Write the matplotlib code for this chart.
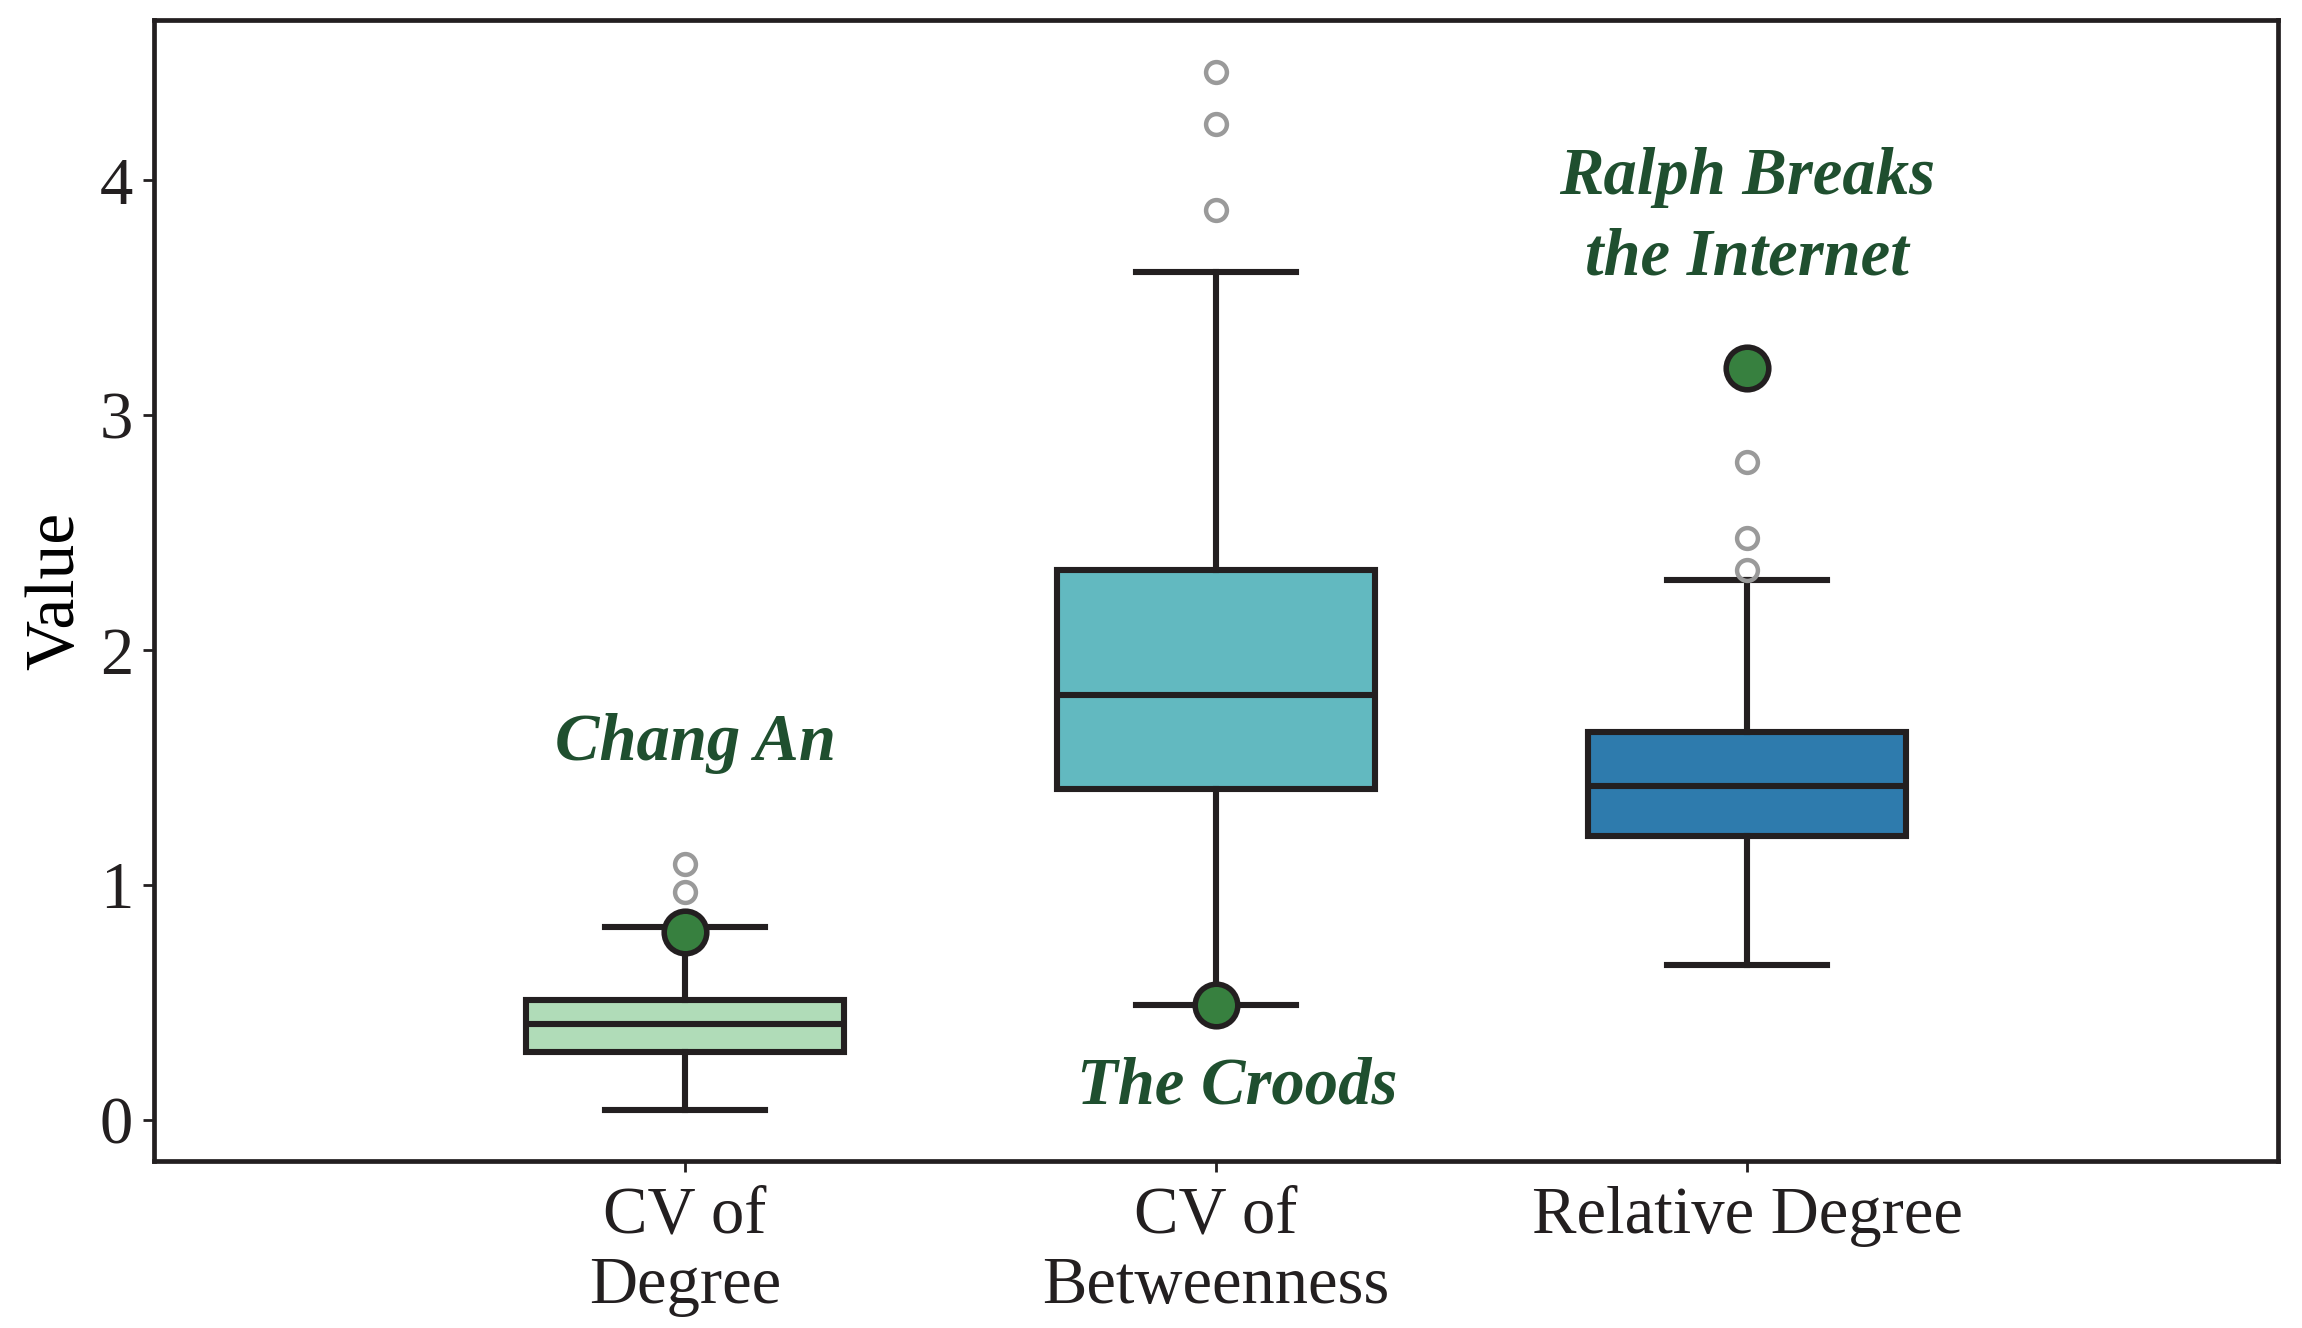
import matplotlib
matplotlib.use("Agg")
import matplotlib.pyplot as plt

# Box statistics
categories = ["CV of\nDegree", "CV of\nBetweenness", "Relative Degree"]
q1 = [0.29, 1.41, 1.21]
med = [0.41, 1.81, 1.42]
q3 = [0.51, 2.34, 1.65]
whislo = [0.04, 0.49, 0.66]
whishi = [0.82, 3.61, 2.30]
fliers = [[0.97, 1.09], [3.875, 4.24, 4.46], [2.34, 2.475, 2.80]]
box_colors = ["#b0dcb8", "#62b9c0", "#2e7bad"]

# Highlighted films
hl_names = ["Chang An", "The Croods", "Ralph Breaks\nthe Internet"]
hl_values = [0.80, 0.49, 3.20]
hl_label_y = [1.60, 0.14, 3.84]
hl_label_dx = [0.02, 0.04, 0.0]

plt.rcParams["font.family"] = ["Liberation Serif", "DejaVu Serif"]
edge = "#231f20"

fig = plt.figure(figsize=(11.51, 6.64), dpi=200)
ax = fig.add_axes([0.0669, 0.1258, 0.9227, 0.8588])

stats = []
for i in range(len(categories)):
    stats.append(dict(med=med[i], q1=q1[i], q3=q3[i], whislo=whislo[i],
                      whishi=whishi[i], fliers=fliers[i], label=categories[i]))

bp = ax.bxp(stats, positions=range(len(categories)), widths=0.6,
            patch_artist=True, showfliers=True,
            boxprops=dict(edgecolor=edge, linewidth=2.2),
            medianprops=dict(color=edge, linewidth=2.2),
            whiskerprops=dict(color=edge, linewidth=2.2),
            capprops=dict(color=edge, linewidth=2.2),
            flierprops=dict(marker="o", markerfacecolor="none",
                            markeredgecolor="#9a9a9a", markersize=7.5,
                            markeredgewidth=1.6))
for patch, c in zip(bp["boxes"], box_colors):
    patch.set_facecolor(c)

ax.scatter(range(len(hl_values)), hl_values, s=235, color="#37803f",
           edgecolor=edge, linewidth=2.0, zorder=5)

for i, (name, ty) in enumerate(zip(hl_names, hl_label_y)):
    ax.text(i + hl_label_dx[i], ty, name, ha="center", va="center",
            fontsize=24, fontweight="bold", fontstyle="italic",
            color="#1f4f2f", linespacing=1.4)

ax.set_xlim(-1, 3)
ax.set_ylim(-0.175, 4.68)
ax.set_yticks([0, 1, 2, 3, 4])
ax.set_xticks(range(len(categories)))
ax.set_xticklabels(categories, ha="center", linespacing=1.2)
ax.set_ylabel("Value", fontsize=25)
ax.tick_params(axis="both", labelsize=24, direction="out", length=4,
               width=1.0, color=edge, labelcolor=edge)
ax.tick_params(axis="x", pad=5)
for s in ax.spines.values():
    s.set_linewidth(1.7)
    s.set_color(edge)

fig.savefig("out.png", dpi=200)
